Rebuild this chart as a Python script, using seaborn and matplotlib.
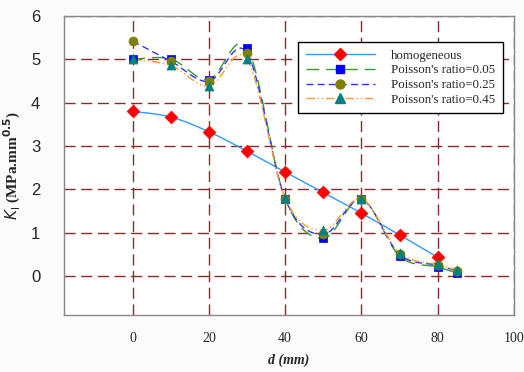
import numpy as np
import pandas as pd
import matplotlib
matplotlib.use("Agg")
import matplotlib.pyplot as plt
from matplotlib.lines import Line2D
import seaborn as sns

# data
d_hom = [0, 10, 20, 30, 40, 50, 60, 70, 80]
k_hom = [3.80, 3.67, 3.33, 2.88, 2.40, 1.93, 1.45, 0.95, 0.43]

d_pr = [0, 10, 20, 30, 40, 50, 60, 70, 80, 85]
k_pr005 = [5.00, 5.01, 4.53, 5.27, 1.78, 0.87, 1.77, 0.46, 0.21, 0.07]
k_pr025 = [5.42, 4.96, 4.49, 5.15, 1.78, 0.96, 1.77, 0.50, 0.25, 0.12]
k_pr045 = [5.00, 4.86, 4.38, 5.00, 1.80, 1.06, 1.78, 0.53, 0.27, 0.13]

labels = ["homogeneous", "Poisson's ratio=0.05", "Poisson's ratio=0.25", "Poisson's ratio=0.45"]
x_ticks = [0, 20, 40, 60, 80, 100]
y_ticks = [0, 1, 2, 3, 4, 5, 6]


def smooth(x, y, n=20):
    # Excel-like smoothed line (cubic Bezier through the points)
    p = np.column_stack([x, y]).astype(float)
    pts = [p[0]]
    for i in range(len(p) - 1):
        p0 = p[i - 1] if i > 0 else p[i]
        p3 = p[i + 2] if i + 2 < len(p) else p[i + 1]
        c1 = p[i] + (p[i + 1] - p0) / 6
        c2 = p[i + 1] - (p3 - p[i]) / 6
        t = np.linspace(0, 1, n)[1:, None]
        seg = ((1 - t) ** 3 * p[i] + 3 * (1 - t) ** 2 * t * c1
               + 3 * (1 - t) * t ** 2 * c2 + t ** 3 * p[i + 1])
        pts.extend(seg)
    pts = np.array(pts)
    return pd.DataFrame({"d": pts[:, 0], "k": pts[:, 1]})


sns.set_style("white")
plt.rcParams["font.family"] = ["Liberation Serif", "DejaVu Serif"]

fig = plt.figure(figsize=(5.24, 3.72), dpi=100)
fig.patch.set_facecolor("#fbfbfb")
ax = fig.add_axes([0.122, 0.153, 0.859, 0.804])
ax.set_facecolor("white")

series = [
    (d_hom, k_hom, "#3399ff", "-", (None, None), "D", "#ff0000", 6.5),
    (d_pr, k_pr005, "#339933", "--", (9, 5), "s", "#0000ff", 6),
    (d_pr, k_pr025, "#3333ff", "--", (5, 3), "o", "#808000", 6.5),
    (d_pr, k_pr045, "#ff9933", "-.", (6, 2, 1, 2, 1, 2), "^", "#008080", 6.5),
]

for (x, y, lc, ls, dash, mk, mc, ms) in series:
    df = smooth(x, y)
    sns.lineplot(data=df, x="d", y="k", sort=False, estimator=None,
                 color=lc, lw=1.0, ax=ax, legend=False)
    l = ax.lines[-1]
    if dash[0] is not None:
        l.set_dashes(dash)
    pts = pd.DataFrame({"d": x, "k": y})
    sns.scatterplot(data=pts, x="d", y="k", marker=mk, color=mc, s=ms ** 2,
                    edgecolor=mc, linewidth=0.5, ax=ax, legend=False, zorder=5)

ax.set_xlim(-18, 100)
ax.set_ylim(-0.9, 6)
ax.set_xticks(x_ticks)
ax.set_yticks(y_ticks)
ax.grid(True, color="#8b2a2a", ls=(0, (8, 4)), lw=1.0)
ax.set_axisbelow(True)
for s in ax.spines.values():
    s.set_color("#888888")
    s.set_linewidth(1.0)

ax.tick_params(axis="x", length=0, pad=12, labelsize=10)
ax.tick_params(axis="y", length=5, color="#8b2a2a", labelsize=12, pad=12)
for t in ax.get_yticklabels():
    t.set_fontfamily("Liberation Sans")

ax.set_xlabel("d (mm)", fontsize=10, fontweight="bold", fontstyle="italic", labelpad=6)
ax.set_ylabel(r"$\mathbf{\mathit{K}_{\mathrm{I}}}$ (MPa.mm$^{\mathbf{0.5}}$)",
              fontsize=11, fontweight="bold", labelpad=6)

handles = []
for (x, y, lc, ls, dash, mk, mc, ms) in series:
    h = Line2D([0], [0], color=lc, lw=1.0, marker=mk, markerfacecolor=mc,
               markeredgecolor=mc, markersize=ms)
    if dash[0] is not None:
        h.set_dashes(dash)
    handles.append(h)
leg = ax.legend(handles, labels, loc="upper right", bbox_to_anchor=(0.976, 0.913),
                borderaxespad=0, fontsize=9.3, frameon=True, fancybox=False,
                handlelength=5.3, borderpad=0.6, labelspacing=0.2,
                handletextpad=1.3)
leg.get_frame().set_edgecolor("black")
leg.get_frame().set_linewidth(1.0)
leg.get_frame().set_alpha(1)

fig.savefig("out.png", dpi=100, facecolor=fig.get_facecolor())
